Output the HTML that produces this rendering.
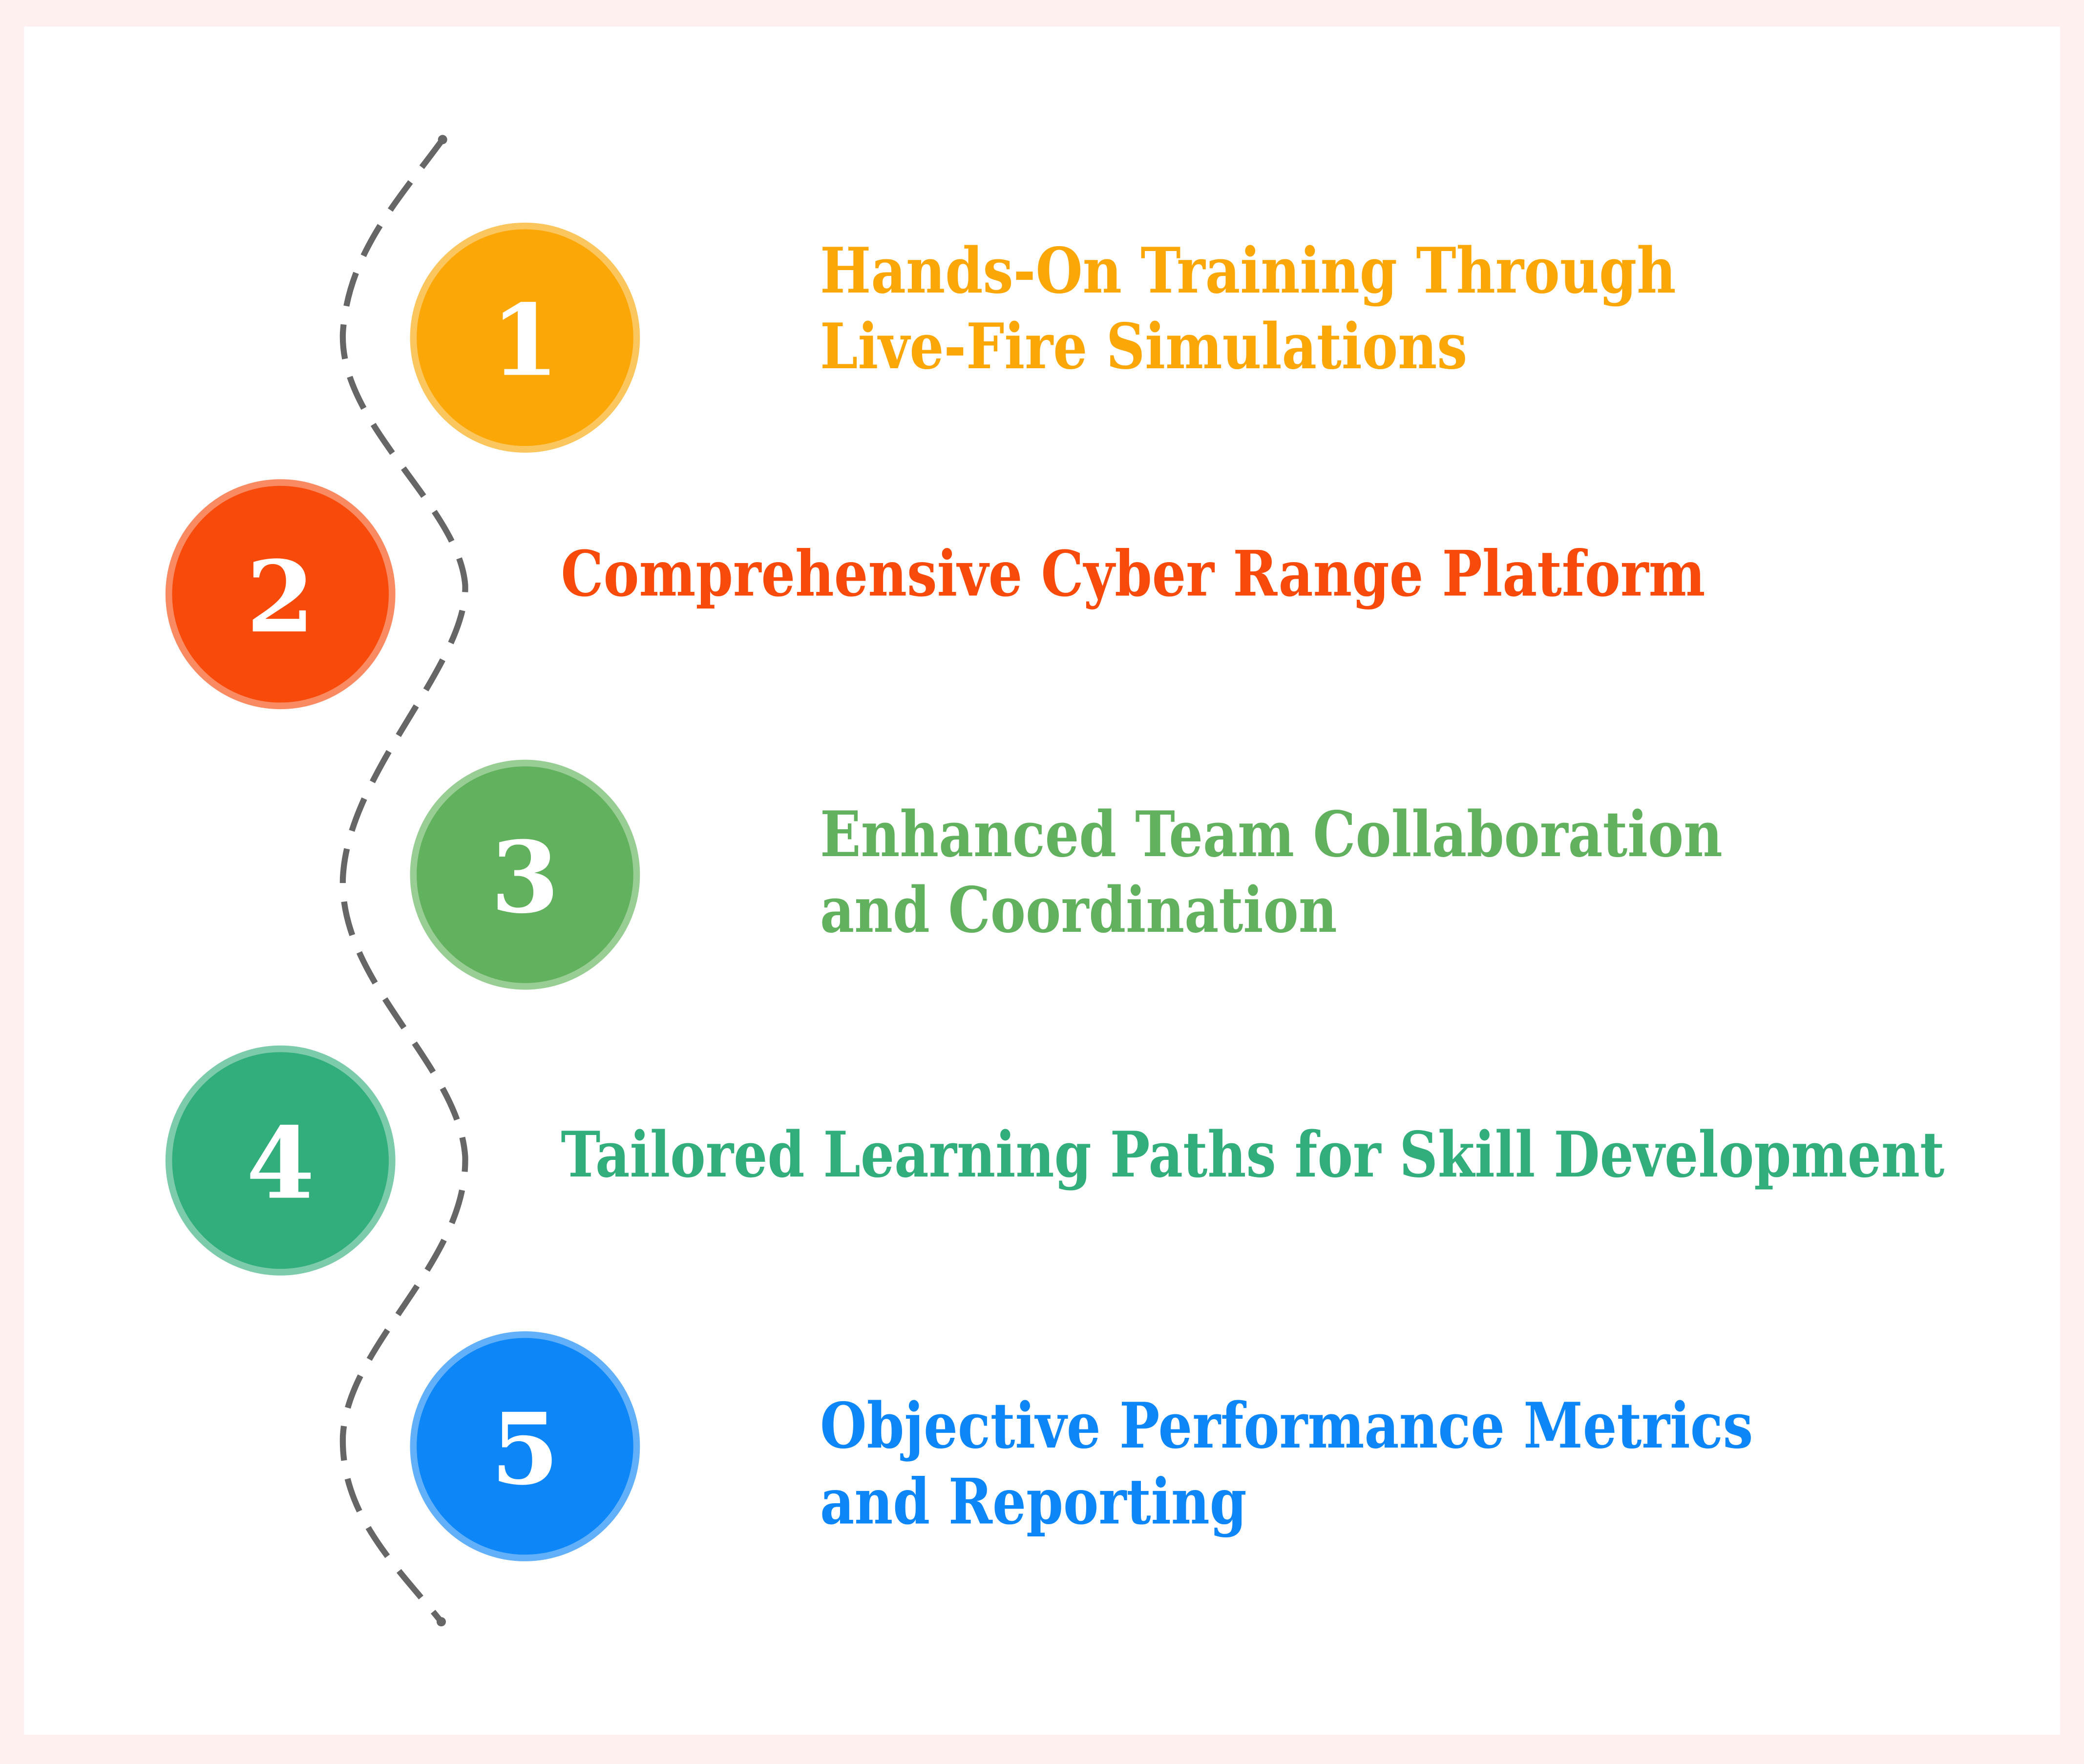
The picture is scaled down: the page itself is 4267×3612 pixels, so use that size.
<!DOCTYPE html>
<html><head><meta charset="utf-8"><style>
html,body{margin:0;padding:0;background:#fff0f0;}
svg{display:block;}
text{font-family:"DejaVu Serif","Liberation Serif",serif;font-weight:bold;}
</style></head><body>
<svg width="4267" height="3612" viewBox="0 0 1568 1327" preserveAspectRatio="none" xmlns="http://www.w3.org/2000/svg">
<rect x="0" y="0" width="1568" height="1327" fill="#fff0f0"/>
<rect x="18" y="20" width="1532" height="1285" fill="#ffffff"/>
<path d="M333,105 C300,150 262,190 258,250 C255,320 345,380 350,440 C352,500 262,580 258,660 C255,740 345,800 350,870 C352,950 262,1010 258,1080 C256,1140 300,1180 332,1220" fill="none" stroke="#666" stroke-width="4.5" stroke-dasharray="26,14"/>
<circle cx="333" cy="105" r="3.5" fill="#666"/>
<circle cx="332" cy="1220" r="3.5" fill="#666"/>

<circle cx="395" cy="254" r="84" fill="#FBA708" stroke="#FCC65E" stroke-width="5"/>
<text x="395" y="282" font-size="74" fill="#fff" text-anchor="middle">1</text>
<circle cx="211" cy="447" r="84" fill="#F84A0A" stroke="#F98A62" stroke-width="5"/>
<text x="211" y="475" font-size="74" fill="#fff" text-anchor="middle">2</text>
<circle cx="395" cy="658" r="84" fill="#62B15E" stroke="#98CD94" stroke-width="5"/>
<text x="395" y="686" font-size="74" fill="#fff" text-anchor="middle">3</text>
<circle cx="211" cy="873" r="84" fill="#31AE7C" stroke="#7CCBAB" stroke-width="5"/>
<text x="211" y="901" font-size="74" fill="#fff" text-anchor="middle">4</text>
<circle cx="395" cy="1088" r="84" fill="#0D87F8" stroke="#62B0FA" stroke-width="5"/>
<text x="395" y="1116" font-size="74" fill="#fff" text-anchor="middle">5</text>

<g font-size="47">
<text x="617" y="220" fill="#FBA708" textLength="644" lengthAdjust="spacingAndGlyphs">Hands-On Training Through</text>
<text x="617" y="277" fill="#FBA708" textLength="487" lengthAdjust="spacingAndGlyphs">Live-Fire Simulations</text>
<text x="422" y="448" fill="#F84A0A" textLength="861" lengthAdjust="spacingAndGlyphs">Comprehensive Cyber Range Platform</text>
<text x="617" y="644" fill="#62B15E" textLength="679" lengthAdjust="spacingAndGlyphs">Enhanced Team Collaboration</text>
<text x="617" y="701" fill="#62B15E" textLength="389" lengthAdjust="spacingAndGlyphs">and Coordination</text>
<text x="422" y="885" fill="#31AE7C" textLength="1041" lengthAdjust="spacingAndGlyphs">Tailored Learning Paths for Skill Development</text>
<text x="617" y="1089" fill="#0D87F8" textLength="702" lengthAdjust="spacingAndGlyphs">Objective Performance Metrics</text>
<text x="617" y="1146" fill="#0D87F8" textLength="321" lengthAdjust="spacingAndGlyphs">and Reporting</text>
</g>
</svg>
</body></html>
